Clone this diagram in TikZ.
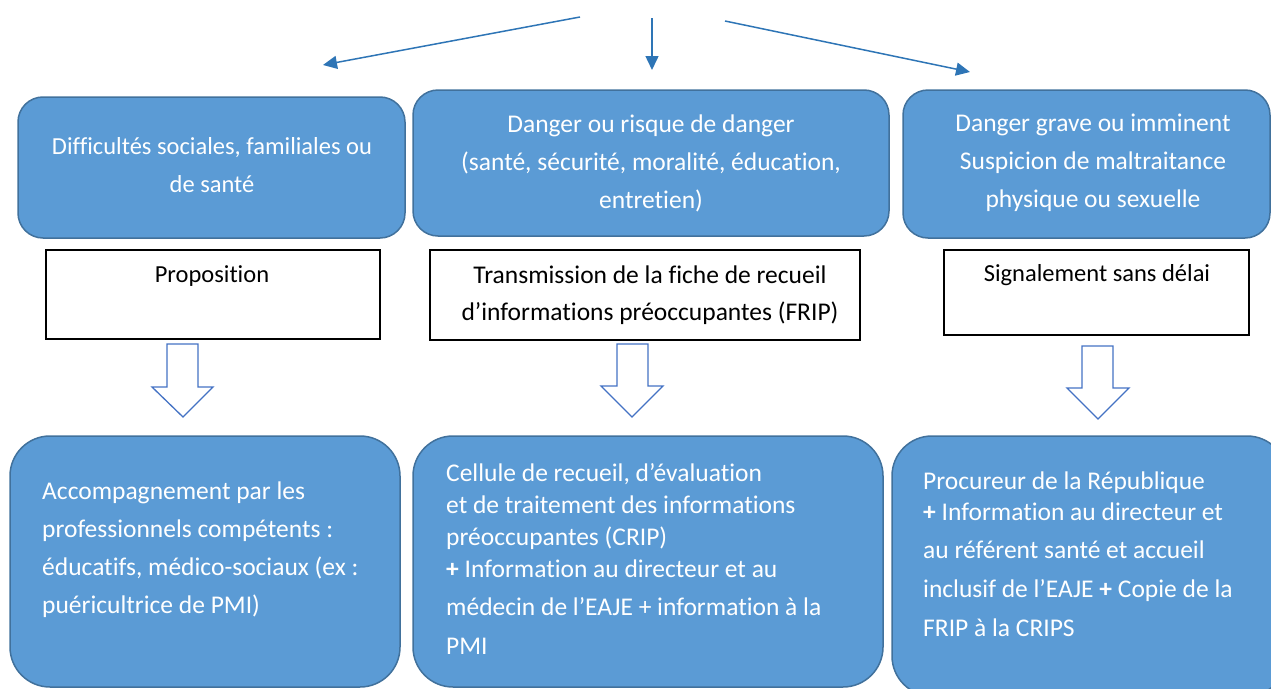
\documentclass[tikz,border=0pt]{standalone}
\usepackage{fontspec}
\setmainfont{Carlito}[Ligatures=NoCommon]
\usetikzlibrary{arrows.meta}
\definecolor{boxfill}{HTML}{5B9BD5}
\definecolor{boxline}{HTML}{41719C}
\definecolor{hollowline}{HTML}{4472C4}
\definecolor{toparrow}{HTML}{2E75B6}
\newcommand\mystrut{\rule{0pt}{21pt}}
\begin{document}
\begin{tikzpicture}[x=1pt,y=-1pt,
  box/.style={inner sep=0pt, outer sep=0pt, anchor=north west, line width=1.5pt},
  topbox/.style={box, draw=boxline, fill=boxfill, rounded corners=25pt},
  botbox/.style={box, draw=boxline, fill=boxfill, rounded corners=40pt},
  whitebox/.style={box, draw=black, fill=white},
  wtxt/.style={inner sep=0pt, text=white, font=\fontsize{25.5}{38}\selectfont},
  btxt/.style={inner sep=0pt, text=black, font=\fontsize{24.5}{37}\selectfont},
  toparr/.style={draw=toparrow, line width=1.5pt, -{Triangle[length=14pt,width=13pt]}},
  hollow/.style={draw=hollowline, fill=white, line width=1.3pt, line join=miter}
]
\useasboundingbox (0,0) rectangle (1271,688);
\clip (0,0) rectangle (1271,688);

% top arrows
\coordinate (s1) at (580,17); \coordinate (e1) at (323,65);
\coordinate (s2) at (652,18); \coordinate (e2) at (652,70);
\coordinate (s3) at (725,21); \coordinate (e3) at (970,72);
\draw[toparr] (s1) -- (e1);
\draw[toparr] (s2) -- (e2);
\draw[toparr] (s3) -- (e3);

% top boxes
\node[topbox, minimum width=387pt, minimum height=141pt] (b1) at (18,97) {};
\node[topbox, minimum width=476pt, minimum height=146pt] (b2) at (413,90) {};
\node[topbox, minimum width=367pt, minimum height=148pt] (b3) at (903,90) {};

\node[wtxt, anchor=north, align=center, font=\fontsize{24.5}{38}\selectfont] (tb1) at (212,133)
  {\mystrut Difficultés sociales, familiales ou\\de santé};
\node[wtxt, anchor=north, align=center] (tb2) at (651,111)
  {\mystrut Danger ou risque de danger\\(santé, sécurité, moralité, éducation,\\entretien)};
\node[wtxt, anchor=north, align=center] (tb3) at (1093,110)
  {\mystrut Danger grave ou imminent\\Suspicion de maltraitance\\physique ou sexuelle};

% white boxes
\node[whitebox, minimum width=334pt, minimum height=89pt] (w1) at (46,250) {};
\node[whitebox, minimum width=430pt, minimum height=90pt] (w2) at (430,250) {};
\node[whitebox, minimum width=305pt, minimum height=85pt] (w3) at (944,250) {};

\node[btxt, anchor=north, align=center] (tw1) at (212,261) {\mystrut Proposition};
\node[btxt, anchor=north, align=center, font=\fontsize{25.5}{37}\selectfont] (tw2) at (650,262)
  {\mystrut Transmission de la fiche de recueil\\d’informations préoccupantes (FRIP)};
\node[btxt, anchor=north, align=center] (tw3) at (1097,260) {\mystrut Signalement sans délai};

% hollow arrows
\draw[hollow] (167,344) -- (198,344) -- (198,387) -- (213,387) -- (183,417) -- (152,387) -- (167,387) -- cycle;
\draw[hollow] (617,344) -- (648,344) -- (648,386) -- (663,386) -- (632,417) -- (601,386) -- (617,386) -- cycle;
\draw[hollow] (1082,346) -- (1113,346) -- (1113,388) -- (1129,388) -- (1098,419) -- (1067,388) -- (1082,388) -- cycle;

% bottom boxes
\node[botbox, minimum width=390pt, minimum height=251pt] (c1) at (10,436) {};
\node[botbox, minimum width=470pt, minimum height=251pt] (c2) at (413,436) {};
\node[botbox, minimum width=395pt, minimum height=260pt] (c3) at (892,436) {};

\node[wtxt, anchor=north west, align=left] (tc1) at (42,478)
  {\mystrut Accompagnement par les\\professionnels compétents :\\éducatifs, médico-sociaux (ex :\\puéricultrice de PMI)};
\node[wtxt, anchor=north west, align=left, font=\fontsize{25.5}{32}\selectfont] (tc2) at (446,460)
  {\mystrut Cellule de recueil, d’évaluation\\et de traitement des informations\\préoccupantes (CRIP)\\\textbf{+} Information au directeur et au\\[6pt]médecin de l’EAJE + information à la\\[7pt]PMI};
\node[wtxt, anchor=north west, align=left, font=\fontsize{25.5}{31}\selectfont] (tc3) at (923,468)
  {\mystrut Procureur de la République\\\textbf{+} Information au directeur et\\[7pt]au référent santé et accueil\\[8pt]inclusif de l’EAJE \textbf{+} Copie de la\\[8pt]FRIP à la CRIPS};
\end{tikzpicture}
\end{document}
